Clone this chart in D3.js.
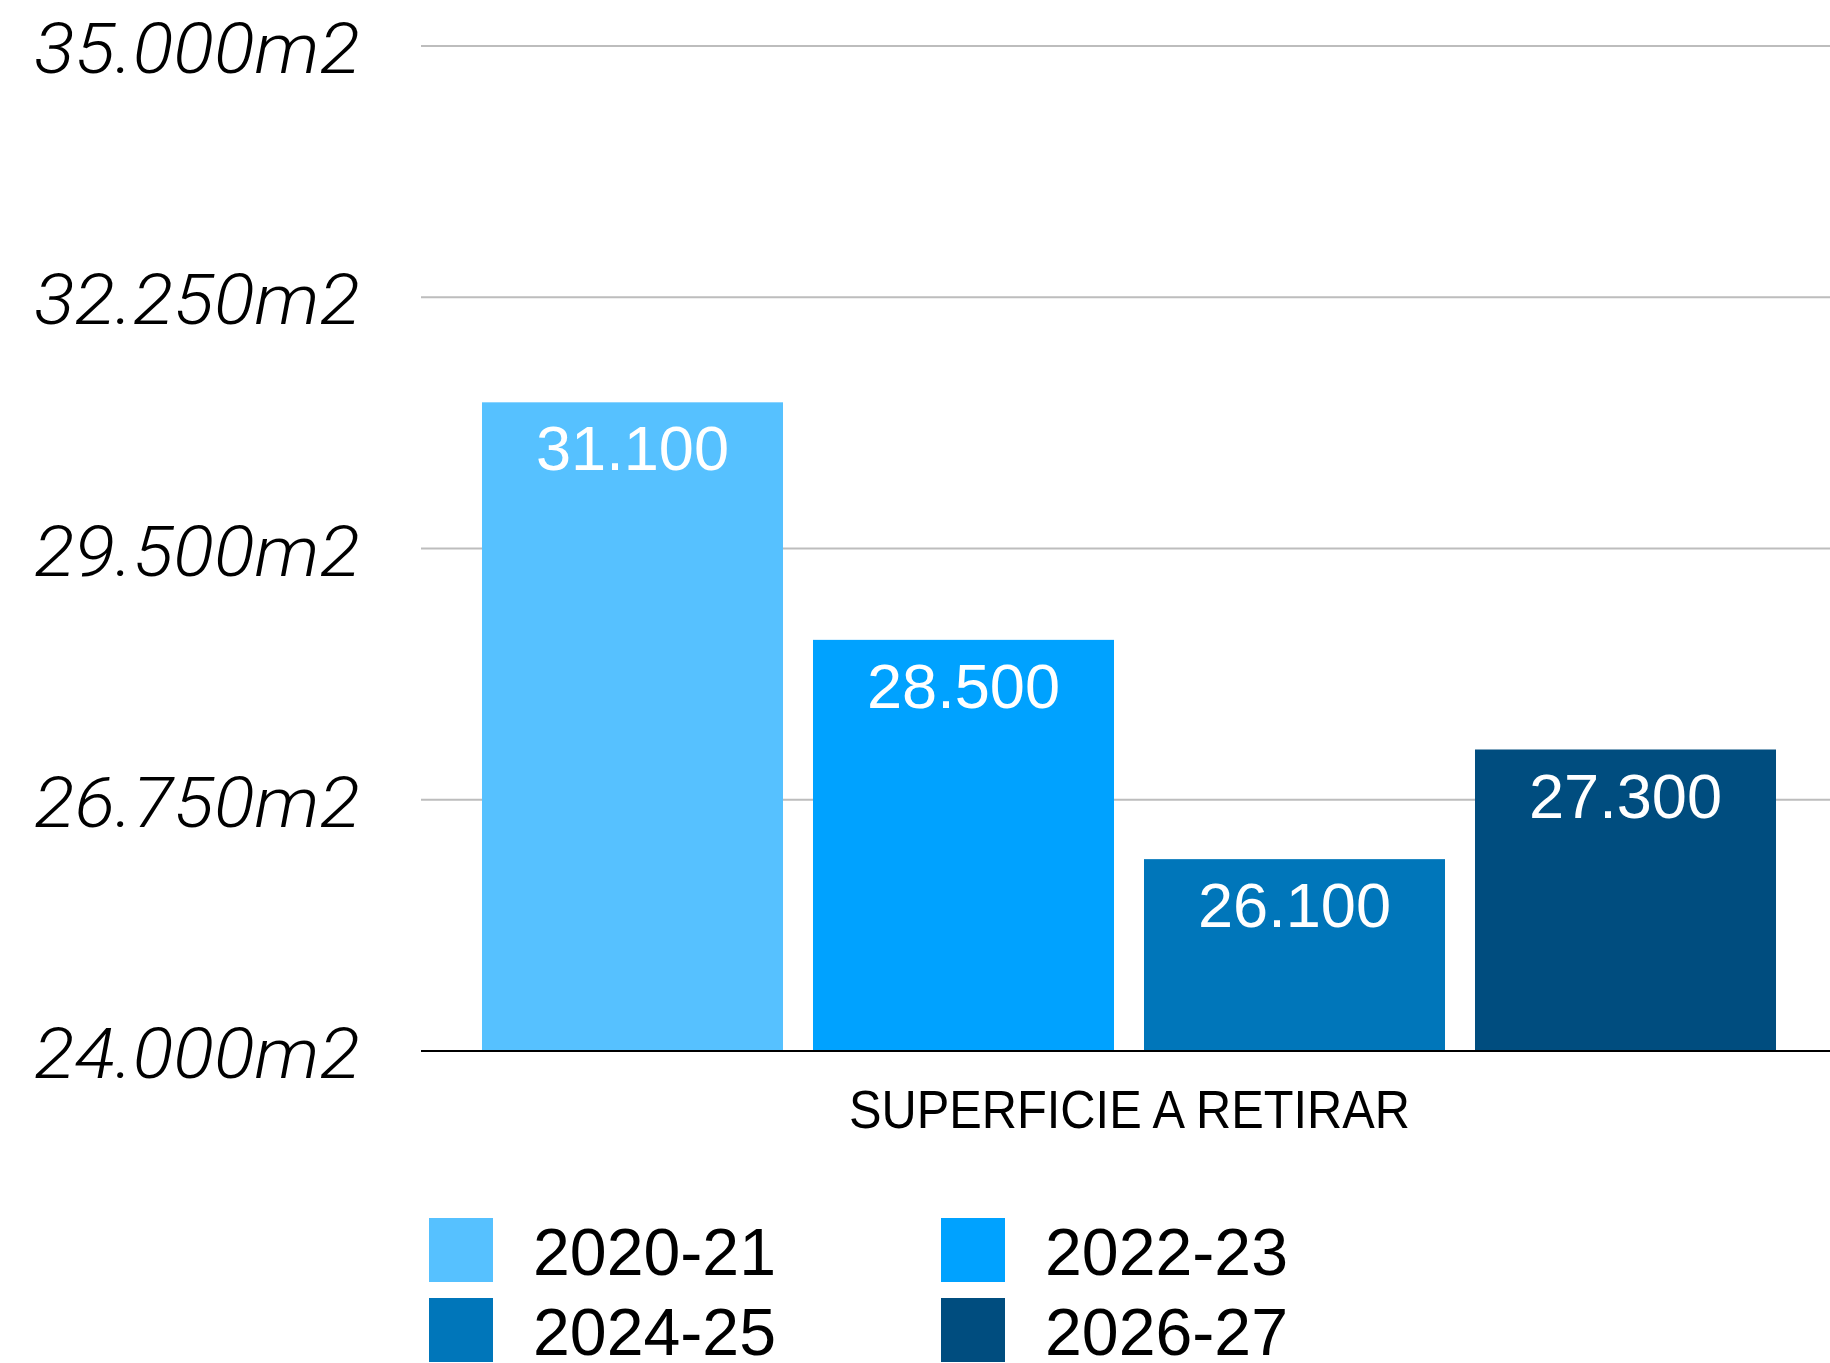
<!DOCTYPE html>
<html>
<head>
<meta charset="utf-8">
<script src="https://cdn.jsdelivr.net/npm/d3@7"></script>
<style>
  html, body { margin: 0; padding: 0; background: #fff; }
  svg { display: block; }
</style>
</head>
<body>
<svg id="chart" width="1830" height="1363"></svg>
<script>
// ---- data ----
const categories = ["SUPERFICIE A RETIRAR"];
const seriesNames = ["2020-21", "2022-23", "2024-25", "2026-27"];
const seriesValues = [31100, 28500, 26100, 27300];
const seriesColors = ["#56C1FF", "#00A2FF", "#0076BA", "#004D7F"];
const yTicks = [24000, 26750, 29500, 32250, 35000];
const yDomain = [24000, 35000];

// ---- layout ----
const W = 1830, H = 1363;
const plot = { left: 421, right: 1830, top: 46, bottom: 1051 };

const svg = d3.select("#chart");

const locale = d3.formatLocale({ decimal: ",", thousands: ".", grouping: [3], currency: ["", ""] });
const fmt = locale.format(",");

const y = d3.scaleLinear().domain(yDomain).range([plot.bottom, plot.top]);

const xCat = d3.scaleBand().domain(categories).range([plot.left, plot.right]);
const xSeries = d3.scaleBand()
  .domain(seriesNames)
  .range([467, 1791])
  .paddingInner(0.0906)
  .paddingOuter(0.0453);

// gridlines
svg.append("g")
  .selectAll("line")
  .data(yTicks.filter(t => t !== yDomain[0]))
  .join("line")
  .attr("x1", plot.left).attr("x2", plot.right)
  .attr("y1", d => y(d)).attr("y2", d => y(d))
  .attr("stroke", "#bdbdbd").attr("stroke-width", 2);

// tick labels
svg.append("g")
  .selectAll("text")
  .data(yTicks)
  .join("text")
  .attr("x", 360)
  .attr("y", d => y(d) + 27)
  .attr("text-anchor", "end")
  .attr("font-family", "Roboto, 'Liberation Sans', sans-serif")
  .attr("font-weight", 300)
  .attr("font-style", "italic")
  .attr("font-size", 71)
  .attr("textLength", 326)
  .attr("lengthAdjust", "spacingAndGlyphs")
  .attr("fill", "#000")
  .text(d => fmt(d) + "m2");

// bars
const bars = svg.append("g");
bars.selectAll("rect")
  .data(seriesNames)
  .join("rect")
  .attr("x", d => xSeries(d))
  .attr("width", xSeries.bandwidth())
  .attr("y", (d, i) => y(seriesValues[i]))
  .attr("height", (d, i) => y(yDomain[0]) - y(seriesValues[i]))
  .attr("fill", (d, i) => seriesColors[i]);

// value labels
bars.selectAll("text")
  .data(seriesNames)
  .join("text")
  .attr("x", d => xSeries(d) + xSeries.bandwidth() / 2)
  .attr("y", (d, i) => y(seriesValues[i]) + 68)
  .attr("text-anchor", "middle")
  .attr("font-family", "'Liberation Sans', Arial, sans-serif")
  .attr("font-size", 63)
  .attr("textLength", 193)
  .attr("lengthAdjust", "spacingAndGlyphs")
  .attr("fill", "#fff")
  .text((d, i) => fmt(seriesValues[i]));

// baseline axis
svg.append("line")
  .attr("x1", plot.left).attr("x2", plot.right)
  .attr("y1", y(yDomain[0])).attr("y2", y(yDomain[0]))
  .attr("stroke", "#000").attr("stroke-width", 2);

// category label
svg.append("g")
  .selectAll("text")
  .data(categories)
  .join("text")
  .attr("x", d => xCat(d) + xCat.bandwidth() / 2 + 4)
  .attr("y", 1128)
  .attr("text-anchor", "middle")
  .attr("font-family", "'Liberation Sans', Arial, sans-serif")
  .attr("font-size", 53)
  .attr("textLength", 561)
  .attr("lengthAdjust", "spacingAndGlyphs")
  .attr("fill", "#000")
  .text(d => d);

// legend (2 columns)
const legend = svg.append("g");
const legX = [429, 941];
const legY = [1218, 1298];
const items = legend.selectAll("g")
  .data(seriesNames)
  .join("g")
  .attr("transform", (d, i) => `translate(${legX[i % 2]},${legY[Math.floor(i / 2)]})`);
items.append("rect")
  .attr("width", 64).attr("height", 64)
  .attr("fill", (d, i) => seriesColors[i]);
items.append("text")
  .attr("x", 104)
  .attr("y", 57)
  .attr("font-family", "'Liberation Sans', Arial, sans-serif")
  .attr("font-size", 66)
  .attr("textLength", 243)
  .attr("lengthAdjust", "spacingAndGlyphs")
  .attr("fill", "#000")
  .text(d => d);
</script>
</body>
</html>
